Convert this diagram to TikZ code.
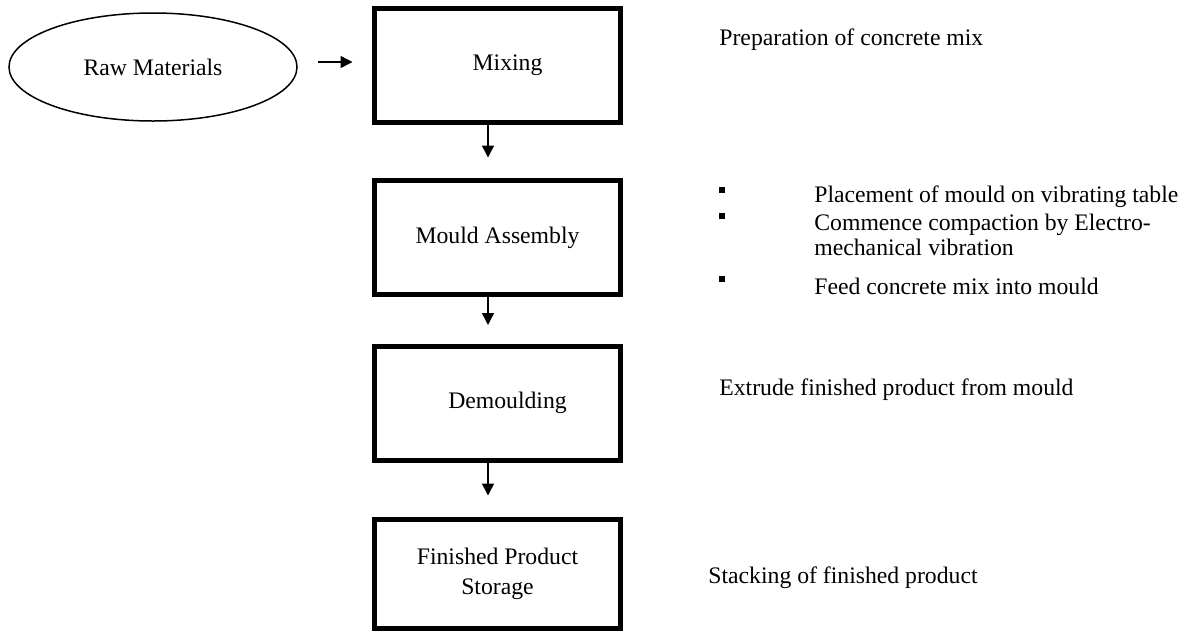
\documentclass[tikz,border=0pt]{standalone}
\usepackage{fontspec}
\setmainfont{Liberation Serif}
\usetikzlibrary{shapes.geometric,arrows.meta}
\begin{document}
\begin{tikzpicture}[x=0.5pt,y=-0.5pt,
 every node/.style={font=\fontsize{11.85pt}{15pt}\selectfont},
 stage/.style={draw, line width=2.5pt, minimum width=123pt, minimum height=57pt, inner sep=0pt, align=center},
 oval/.style={draw, ellipse, line width=0.75pt, minimum width=144pt, minimum height=54pt, inner sep=0pt},
 arr/.style={line width=0.75pt, -{Triangle[length=6pt,width=6pt]}},
 note/.style={anchor=west, inner sep=0pt, align=left},
 bul/.style={fill=black, minimum width=2.7pt, minimum height=3.3pt, inner sep=0pt}]
\useasboundingbox (0,0) rectangle (1189,633);
\node[oval] (raw) at (153,67) {Raw Materials};
\node[stage] (mix) at (497.5,65.5) {\hspace*{10pt}Mixing};
\node[stage] (mould) at (497.5,237.5) {Mould Assembly};
\node[stage] (demould) at (497.5,403) {\hspace*{10pt}Demoulding};
\node[stage, minimum height=54.5pt] (store) at (497.5,574) {Finished Product\\Storage};

\draw[arr] ([xshift=10pt,yshift=2.5pt]raw.east) -- ([xshift=-9.75pt,yshift=1.75pt]mix.west);
\draw[arr] ([xshift=-4.75pt]mix.south) -- ([xshift=-4.75pt,yshift=10.25pt]mould.north);
\draw[arr] ([xshift=-4.75pt]mould.south) -- ([xshift=-4.75pt,yshift=9.25pt]demould.north);
\draw[arr] ([xshift=-4.75pt]demould.south) -- ([xshift=-4.75pt,yshift=10.75pt]store.north);

\node[note] (prep) at (719,40) {Preparation of concrete mix};
\node[bul] (s1) at (722,190) {};
\node[note] (b1) at (814,197) {Placement of mould on vibrating table};
\node[bul] (s2) at (722,216) {};
\node[note, font=\fontsize{11.85pt}{12.8pt}\selectfont] (b2) at (814,235) {Commence compaction by Electro-\\mechanical vibration};
\node[bul] (s3) at (722,279) {};
\node[note] (b3) at (814,286) {Feed concrete mix into mould};
\node[note] (extr) at (719,390) {Extrude finished product from mould};
\node[note] (stack) at (708,578) {Stacking of finished product};
\end{tikzpicture}
\end{document}
